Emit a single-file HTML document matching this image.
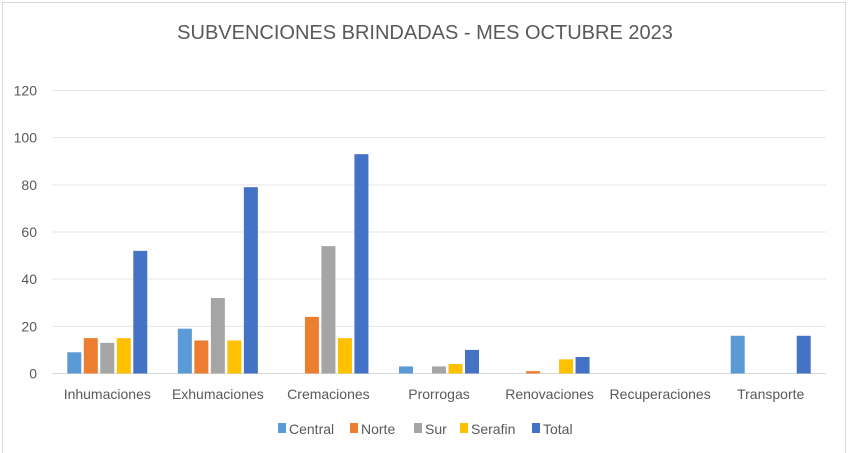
<!DOCTYPE html>
<html><head><meta charset="utf-8"><style>
body{margin:0;background:#fff;}
svg{display:block;font-family:"Liberation Sans",sans-serif;}
</style></head><body>
<svg id="chart" width="849" height="453">
<rect x="0" y="0" width="849" height="453" fill="#fff"/>
<rect x="2.5" y="2.5" width="843" height="460" fill="none" stroke="#d9d9d9"/>
<text x="425" y="39" text-anchor="middle" font-size="20" fill="#595959">SUBVENCIONES BRINDADAS - MES OCTUBRE 2023</text>
<g id="grid"></g><g id="bars"></g><g id="labels"></g><g id="legend"></g>
</svg>
<script>
const categories=["Inhumaciones","Exhumaciones","Cremaciones","Prorrogas","Renovaciones","Recuperaciones","Transporte"];
const seriesNames=["Central","Norte","Sur","Serafin","Total"];
const central=[9,19,0,3,0,0,16];
const norte=[15,14,24,0,1,0,0];
const sur=[13,32,54,3,0,0,0];
const serafin=[15,14,15,4,6,0,0];
const total=[52,79,93,10,7,0,16];
const yTicks=[0,20,40,60,80,100,120];
const colors=["#5b9bd5","#ed7d31","#a5a5a5","#ffc000","#4472c4"];
const series=[central,norte,sur,serafin,total];
const NS="http://www.w3.org/2000/svg";
const x0=52,x1=826,y0=373.5,yTop=90.5,yMax=120;
const gw=(x1-x0)/categories.length;
const y=v=>y0-(v/yMax)*(y0-yTop);
function mk(t,a,p){const e=document.createElementNS(NS,t);for(const k in a)e.setAttribute(k,a[k]);p.appendChild(e);return e;}
const grid=document.getElementById('grid');
yTicks.forEach(t=>{
 const l=mk('line',{x1:x0,x2:x1,y1:y(t),y2:y(t),stroke:t===0?'#d9d9d9':'#e6e6e6','stroke-width':1},grid);
 
 
 const tx=mk('text',{x:37,y:y(t)+5,'text-anchor':'end','font-size':14,fill:'#595959'},grid);
 tx.textContent=t;
 
 
});
const bars=document.getElementById('bars');
const bw=14,step=16.5;
categories.forEach((c,i)=>{
 const cx=x0+gw*(i+0.5);
 series.forEach((s,j)=>{
  const v=s[i];
  const bx=cx+(j-2)*step-bw/2;
  const r=mk('rect',{x:bx,y:y(v),width:bw,height:y0-y(v),fill:colors[j]},bars);
  
  
 });
 const t=mk('text',{x:cx,y:399,'text-anchor':'middle','font-size':14,fill:'#595959'},document.getElementById('labels'));
 t.textContent=c;
 
 
});
const lg=document.getElementById('legend');
const lx=[278,350,414,460,532];
seriesNames.forEach((n,j)=>{
 const g=mk('g',{},lg);
 
 
 mk('rect',{x:lx[j],y:423,width:8,height:10,fill:colors[j]},g);
 const t=mk('text',{x:lx[j]+11,y:434,'font-size':14,fill:'#595959'},g);
 t.textContent=n;
});
</script>
</body></html>
